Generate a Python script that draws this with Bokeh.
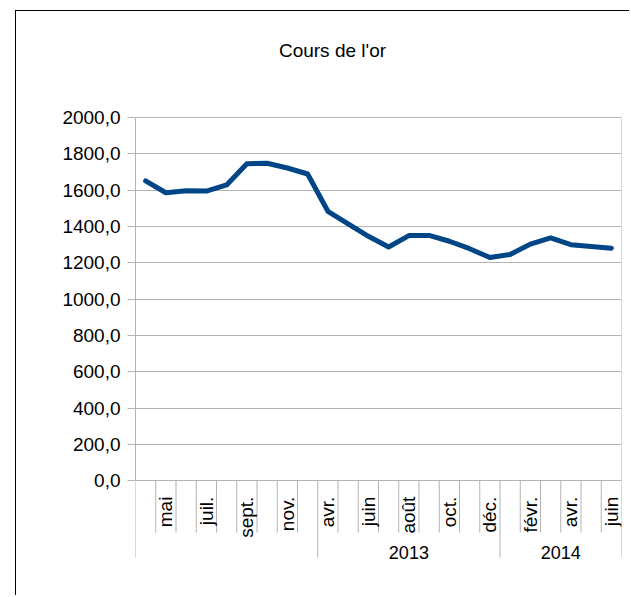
import math
from bokeh.plotting import figure
from bokeh.models import Range1d, LinearAxis, FixedTicker, Grid, CustomJSTickFormatter
from bokeh.embed import file_html
from bokeh.resources import INLINE
from bokeh.core.properties import value

# ---- data ----
title_text = "Cours de l'or"
months = ["avr.", "mai", "juin", "juil.", "août", "sept.", "oct.", "nov.", "déc.",
          "avr.", "mai", "juin", "juil.", "août", "sept.", "oct.", "nov.", "déc.",
          "janv.", "févr.", "mars", "avr.", "mai", "juin"]
group_labels = ["", "2013", "2014"]
group_sizes = [9, 9, 6]
prices = [1650, 1585, 1596, 1594, 1628, 1745, 1747, 1721, 1688,
          1483, 1414, 1345, 1286, 1349, 1350, 1318, 1277, 1228,
          1245, 1302, 1336, 1299, 1289, 1280]
y_ticks = [0, 200, 400, 600, 800, 1000, 1200, 1400, 1600, 1800, 2000]

FONT = "Liberation Sans"
GRAY = "#b3b3b3"
LINE = "#004586"

n = len(months)
y_max = y_ticks[-1]
px_per_unit = 364 / y_max          # 0..2000 spans 364 px
px_per_cat = 486 / n
top_pad_px = 92                    # frame space above the 2000 line (title area)
bottom_pad_px = 95                 # frame space below 0 (category area)
y_top = y_max + top_pad_px / px_per_unit
y_min = -bottom_pad_px / px_per_unit

p = figure(width=614, height=585, output_backend="svg", toolbar_location=None,
           x_range=Range1d(0, n), y_range=Range1d(y_min, y_top),
           x_axis_location=None, y_axis_location=None,
           min_border_left=119, min_border_right=9, min_border_top=14, min_border_bottom=21)
p.outline_line_color = None
p.background_fill_color = "white"
p.border_fill_color = "white"
# drop default grids
p.center = [c for c in p.center if not isinstance(c, Grid)]

# outer chart border (top and left visible)
p.styles = {"border-top": "1px solid #000", "border-left": "1px solid #000"}
p.margin = (10, 0, 0, 15)

# y axis
yticker = FixedTicker(ticks=y_ticks, minor_ticks=[])
yaxis = LinearAxis(ticker=yticker, bounds=(0, y_max),
                   formatter=CustomJSTickFormatter(code="return tick.toFixed(1).replace('.', ',');"),
                   axis_line_color=GRAY, major_tick_line_color=GRAY,
                   major_tick_in=0, major_tick_out=8, minor_tick_in=0, minor_tick_out=0,
                   major_label_standoff=7, major_label_text_font=FONT,
                   major_label_text_font_size="19px", major_label_text_color="#000000")
p.add_layout(yaxis, "left")
p.add_layout(Grid(dimension=1, ticker=yticker, grid_line_color=GRAY))

# right border of plot area
p.segment(x0=[n], y0=[0], x1=[n], y1=[y_max], line_color=GRAY, line_width=1)

# category ticks
bounds = [0]
for s in group_sizes:
    bounds.append(bounds[-1] + s)
short_x = [i for i in range(n + 1) if i not in bounds]
p.segment(x0=short_x, y0=[0] * len(short_x), x1=short_x, y1=[-52 / px_per_unit] * len(short_x),
          line_color=GRAY, line_width=1)
p.segment(x0=bounds, y0=[0] * len(bounds), x1=bounds, y1=[-77 / px_per_unit] * len(bounds),
          line_color=GRAY, line_width=1)

# month labels (every other)
lab_idx = list(range(1, n, 2))
p.text(x=[i + 0.5 for i in lab_idx], y=[-16 / px_per_unit] * len(lab_idx),
       text=[months[i] for i in lab_idx], angle=math.pi / 2,
       text_align="right", text_baseline="middle",
       text_font=value(FONT), text_font_size="19px", text_color="#000000")

# year labels
gx = [(bounds[k] + bounds[k + 1]) / 2 for k in range(len(group_sizes))]
p.text(x=gx, y=[-72 / px_per_unit] * len(gx), text=group_labels,
       text_align="center", text_baseline="middle",
       text_font=value(FONT), text_font_size="18px", text_color="#000000")

# title
p.text(x=[(332 - 135) / px_per_cat], y=[y_max + 67 / px_per_unit], text=[title_text],
       text_align="center", text_baseline="middle",
       text_font=value(FONT), text_font_size="19px", text_color="#000000")

# price line
p.line(x=[i + 0.5 for i in range(n)], y=prices, line_color=LINE, line_width=5,
       line_join="round", line_cap="round")

open("out.html", "w").write(file_html(p, INLINE))
